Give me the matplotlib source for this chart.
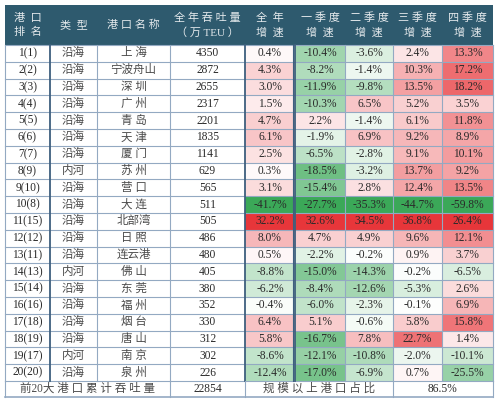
import matplotlib
matplotlib.use('Agg')
import matplotlib.pyplot as plt
from matplotlib.colors import LinearSegmentedColormap, TwoSlopeNorm
from matplotlib.patches import Rectangle

plt.rcParams['font.family'] = ['Liberation Serif', 'Noto Sans CJK SC', 'DejaVu Sans']

# data
ranks = ['1(1)', '2(2)', '3(3)', '4(4)', '5(5)', '6(6)', '7(7)', '8(9)', '9(10)', '10(8)',
         '11(15)', '12(12)', '13(11)', '14(13)', '15(14)', '16(16)', '17(18)', '18(19)', '19(17)', '20(20)']
port_types = ['沿海', '沿海', '沿海', '沿海', '沿海', '沿海', '沿海', '内河', '沿海', '沿海',
              '沿海', '沿海', '沿海', '内河', '沿海', '沿海', '沿海', '沿海', '内河', '沿海']
port_names = ['上 海', '宁波舟山', '深 圳', '广 州', '青 岛', '天 津', '厦 门', '苏 州', '营 口', '大 连',
              '北部湾', '日 照', '连云港', '佛 山', '东 莞', '福 州', '烟 台', '唐 山', '南 京', '泉 州']
throughput = [4350, 2872, 2655, 2317, 2201, 1835, 1141, 629, 565, 511,
              505, 486, 480, 405, 380, 352, 330, 312, 302, 226]
growth_year = [0.4, 4.3, 3.0, 1.5, 4.7, 6.1, 2.5, 0.3, 3.1, -41.7,
               32.2, 8.0, 0.5, -8.8, -6.2, -0.4, 6.4, 5.8, -8.6, -12.4]
growth_q1 = [-10.4, -8.2, -11.9, -10.3, 2.2, -1.9, -6.5, -18.5, -15.4, -27.7,
             32.6, 4.7, -2.2, -15.0, -8.4, -6.0, 5.1, -16.7, -12.1, -17.0]
growth_q2 = [-3.6, -1.4, -9.8, 6.5, -1.4, 6.9, -2.8, -3.2, 2.8, -35.3,
             34.5, 4.9, -0.2, -14.3, -12.6, -2.3, -0.6, 7.8, -10.8, -6.9]
growth_q3 = [2.4, 10.3, 13.5, 5.2, 6.1, 9.2, 9.1, 13.7, 12.4, -44.7,
             36.8, 9.6, 0.9, -0.2, -5.3, -0.1, 5.8, 22.7, -2.0, 0.7]
growth_q4 = [13.3, 17.2, 18.2, 3.5, 11.8, 8.9, 10.1, 9.2, 13.5, -59.8,
             26.4, 12.1, 3.7, -6.5, 2.6, 6.9, 15.8, 1.4, -10.1, -25.5]
headers = ['港  口\n排  名', '类  型', '港 口 名 称', '全 年 吞 吐 量\n（ 万 TEU ）', '全  年\n增  速',
           '一 季 度\n增  速', '二 季 度\n增  速', '三 季 度\n增  速', '四 季 度\n增  速']
total_label = '前20大 港 口 累 计 吞 吐 量'
total_value = 22854
share_label = '规 模 以 上 港 口 占 比'
share_value = '86.5%'

# layout (pixels)
W, H = 495, 401
col_edges = [5, 50, 97, 170, 245, 295, 345, 393, 442, 493]
top, head_h, row_h = 5, 40, 16.8
n = len(ranks)
header_color = '#2E5A6E'
grid_color = '#93A9C2'
dark_line = '#3E5F7E'
text_color = '#2A2A2A'
cjk_color = '#4A4A4A'
fs = 8.3

cmap = LinearSegmentedColormap.from_list('gwr', ['#3BA858', '#FFFFFF', '#E7363A'])


def cell_color(v, col):
    norm = TwoSlopeNorm(vcenter=0, vmin=min(col), vmax=max(col))
    t = float(norm(v)) - 0.5
    s = (abs(t) * 2) ** 0.75 / 2
    return cmap(0.5 + s if t >= 0 else 0.5 - s)


fig = plt.figure(figsize=(W / 100, H / 100), dpi=100)
ax = fig.add_axes([0, 0, 1, 1])
ax.set_xlim(0, W)
ax.set_ylim(H, 0)
ax.axis('off')

# header
ax.add_patch(Rectangle((col_edges[0], top), col_edges[-1] - col_edges[0], head_h,
                       facecolor=header_color, edgecolor='none'))
for j, h in enumerate(headers):
    xc = (col_edges[j] + col_edges[j + 1]) / 2
    ax.text(xc, top + head_h / 2, h, ha='center', va='center', color='#E4E9EC',
            fontsize=fs - 0.3, linespacing=1.55)

y0 = top + head_h
growth_cols = [growth_year, growth_q1, growth_q2, growth_q3, growth_q4]
for i in range(n):
    yt = y0 + i * row_h
    yc = yt + row_h / 2
    vals = [ranks[i], port_types[i], port_names[i], str(throughput[i])]
    for j, v in enumerate(vals):
        xc = (col_edges[j] + col_edges[j + 1]) / 2
        c = cjk_color if j in (1, 2) else text_color
        ax.text(xc, yc, v, ha='center', va='center', fontsize=fs, color=c)
    for k, col in enumerate(growth_cols):
        j = 4 + k
        ax.add_patch(Rectangle((col_edges[j], yt), col_edges[j + 1] - col_edges[j], row_h,
                               facecolor=cell_color(col[i], col), edgecolor='none'))
        ax.text((col_edges[j] + col_edges[j + 1]) / 2, yc, '%.1f%%' % col[i],
                ha='center', va='center', fontsize=fs, color=text_color)

# summary row
ys = y0 + n * row_h
ys_h = 16
ax.text((col_edges[0] + col_edges[3]) / 2, ys + ys_h / 2, total_label, ha='center', va='center',
        fontsize=fs, color=cjk_color)
ax.text((col_edges[3] + col_edges[4]) / 2, ys + ys_h / 2, str(total_value), ha='center', va='center',
        fontsize=fs, color=text_color)
ax.text((col_edges[4] + col_edges[7]) / 2, ys + ys_h / 2, share_label, ha='center', va='center',
        fontsize=fs, color=cjk_color)
ax.text((col_edges[7] + col_edges[9]) / 2, ys + ys_h / 2, share_value, ha='center', va='center',
        fontsize=fs, color=text_color)

# grid lines
bottom = ys + ys_h
for i in range(n + 1):
    y = y0 + i * row_h
    ax.plot([col_edges[0], col_edges[-1]], [y, y], color=grid_color, lw=0.8)
ax.plot([col_edges[0], col_edges[-1]], [bottom, bottom], color=grid_color, lw=1.2)
for j, x in enumerate(col_edges):
    if j in (1, 4, 5):
        lw, c = 1.3, dark_line
    else:
        lw, c = 0.8, grid_color
    ax.plot([x, x], [y0, ys], color=c, lw=lw)
for x in (col_edges[0], col_edges[3], col_edges[4], col_edges[7], col_edges[-1]):
    ax.plot([x, x], [ys, bottom], color=grid_color, lw=0.8)
ax.plot([col_edges[5] - 2.5, col_edges[5] - 2.5], [y0, ys], color=dark_line, lw=0.8)

fig.savefig('out.png', dpi=100)
